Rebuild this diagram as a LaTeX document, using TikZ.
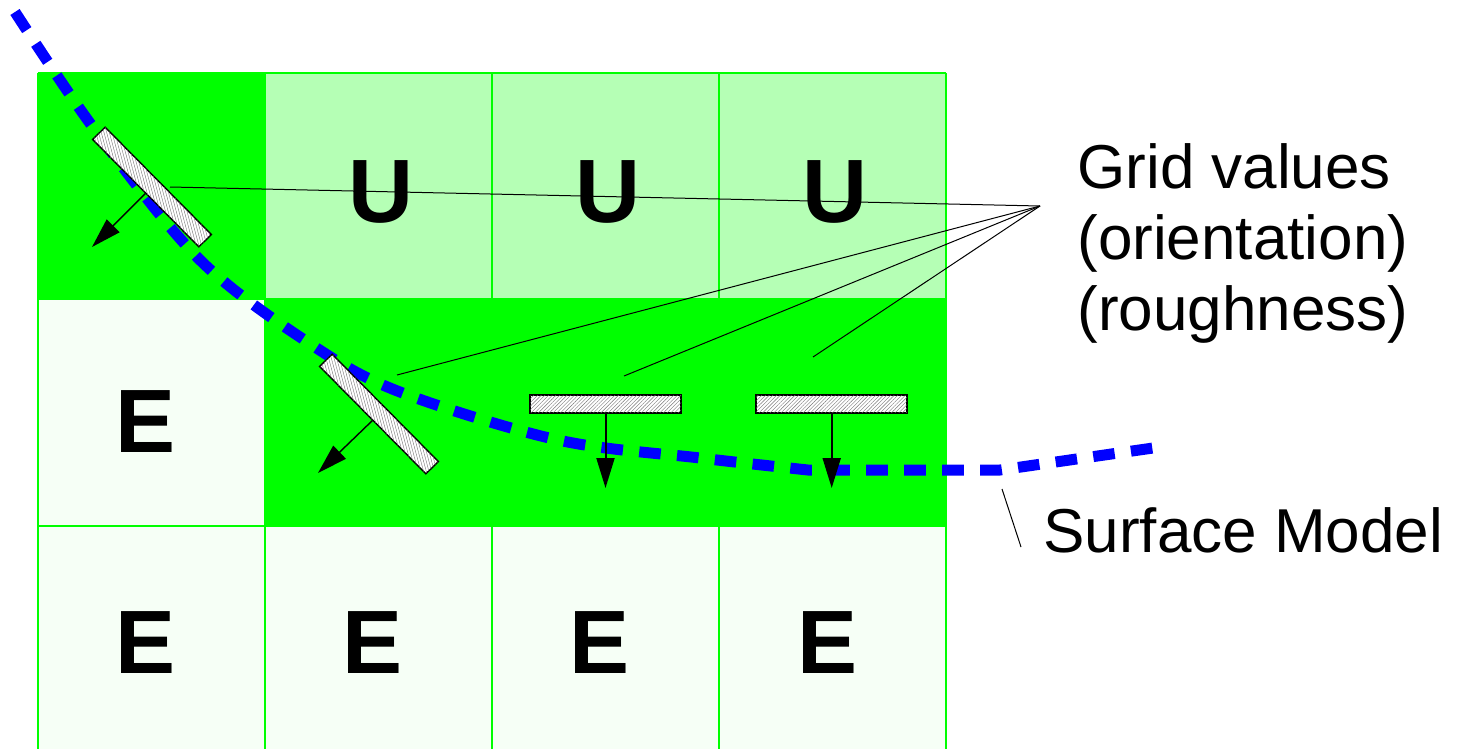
\documentclass[tikz,border=0pt]{standalone}
\usepackage{fontspec}
\setmainfont{Liberation Sans}
\usetikzlibrary{arrows.meta,patterns.meta}

\definecolor{cellon}{RGB}{0,255,0}
\definecolor{cellu}{RGB}{181,255,181}
\definecolor{celle}{RGB}{246,255,246}
\definecolor{surfblue}{RGB}{0,0,255}

\begin{document}
\begin{tikzpicture}[x=0.5pt,y=-0.5pt,>={Triangle[length=15pt,width=9pt]},
        gridline/.style={draw=cellon, line width=1pt},
        letter/.style={font=\fontsize{45}{45}\selectfont\bfseries, inner sep=0pt},
        lbl/.style={font=\fontsize{31}{35.5}\selectfont, align=left, inner sep=0pt},
        bar/.style={draw, line width=0.7pt, fill=white, inner sep=0pt,
                    minimum width=75.5pt, minimum height=8.75pt},
        barhatch/.style={postaction={pattern={Lines[angle=#1,distance=1.3pt,line width=0.2pt]},
                    pattern color=black!55}},
        normvec/.style={->, line width=0.7pt},
        leader/.style={line width=0.5pt},
        surf/.style={draw=surfblue, line width=5.5pt, dash pattern=on 10.8pt off 8.2pt}]
    \useasboundingbox (0,0) rectangle (1459,749);

    % cells
    \fill[cellon] (38,73) rectangle (265,299);
    \fill[cellu]  (265,73) rectangle (946,299);
    \fill[celle]  (38,299) rectangle (265,526);
    \fill[cellon] (265,299) rectangle (946,526);
    \fill[celle]  (38,526) rectangle (946,749);
    \foreach \x in {38,265,492,719,946}
        \draw[gridline] (\x,73) -- (\x,749);
    \foreach \y in {73,299,526}
        \draw[gridline] (38,\y) -- (946,\y);

    % cell values
    \foreach \x [count=\i] in {381,608,835}
        \node[letter] (u\i) at (\x,192) {U};
    \node[letter] (e0) at (146,422) {E};
    \foreach \x [count=\i] in {146,373,600,827}
        \node[letter] (e\i) at (\x,643) {E};

    % surface model
    \draw[surf] plot[smooth, tension=0.55] coordinates {(15,12) (95,130) (200,260)
        (312,345) (400,392) (558,440) (700,458) (808,470)} -- (1000,470) -- (1160,447);

    % grid values: orientation bars and normals
    \node[bar, barhatch=-75, rotate=-45.3] (b1) at (152,187) {};
    \node[bar, barhatch=-75, rotate=-45.3] (b2) at (379,414) {};
    \node[bar, barhatch=45, line width=1pt] (b3) at (605.5,404) {};
    \node[bar, barhatch=45, line width=1pt] (b4) at (831.7,404) {};

    \coordinate (n1) at (92,247);
    \coordinate (n2) at (318,473);
    \coordinate (n3) at (605.5,488);
    \coordinate (n4) at (831.7,488);
    \draw[normvec] (b1.south) -- (n1);
    \draw[normvec] (b2.south) -- (n2);
    \draw[normvec, line width=1pt] (b3.south) -- (n3);
    \draw[normvec, line width=1pt] (b4.south) -- (n4);

    % labels
    \node[lbl, anchor=base west] (gv) at (1077,330) {Grid values\\(orientation)\\(roughness)};
    \node[lbl, anchor=base west] (sm) at (1043,552) {Surface Model};

    \coordinate (gvpt) at (1040,206);
    \coordinate (l1) at (170,187);
    \coordinate (l2) at (397,375);
    \coordinate (l3) at (624,376);
    \coordinate (l4) at (813,357);
    \foreach \p in {l1,l2,l3,l4}
        \draw[leader] (\p) -- (gvpt);

    \coordinate (sm1) at (1002,489);
    \coordinate (sm2) at (1021,547);
    \draw[leader] (sm1) -- (sm2);
\end{tikzpicture}
\end{document}
